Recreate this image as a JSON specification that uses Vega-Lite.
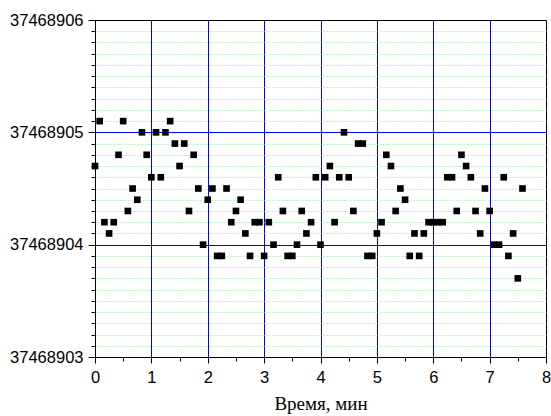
{
  "$schema": "https://vega.github.io/schema/vega-lite/v6.json",
  "width": 451,
  "height": 337,
  "autosize": "none",
  "padding": {"left": 95, "top": 20, "right": 5, "bottom": 59},
  "background": "white",
  "config": {
    "view": {"stroke": "black", "strokeWidth": 1},
    "axis": {"domainColor": "black", "tickColor": "black", "labelColor": "black", "titleColor": "black"}
  },
  "data": {"values": [
    {"t": 0, "f": 37468904.7}, {"t": 0.083, "f": 37468905.1}, {"t": 0.167, "f": 37468904.2}, {"t": 0.25, "f": 37468904.1},
    {"t": 0.333, "f": 37468904.2}, {"t": 0.417, "f": 37468904.8}, {"t": 0.5, "f": 37468905.1}, {"t": 0.583, "f": 37468904.3},
    {"t": 0.667, "f": 37468904.5}, {"t": 0.75, "f": 37468904.4}, {"t": 0.833, "f": 37468905.0}, {"t": 0.917, "f": 37468904.8},
    {"t": 1.0, "f": 37468904.6}, {"t": 1.083, "f": 37468905.0}, {"t": 1.167, "f": 37468904.6}, {"t": 1.25, "f": 37468905.0},
    {"t": 1.333, "f": 37468905.1}, {"t": 1.417, "f": 37468904.9}, {"t": 1.5, "f": 37468904.7}, {"t": 1.583, "f": 37468904.9},
    {"t": 1.667, "f": 37468904.3}, {"t": 1.75, "f": 37468904.8}, {"t": 1.833, "f": 37468904.5}, {"t": 1.917, "f": 37468904.0},
    {"t": 2.0, "f": 37468904.4}, {"t": 2.083, "f": 37468904.5}, {"t": 2.167, "f": 37468903.9}, {"t": 2.25, "f": 37468903.9},
    {"t": 2.333, "f": 37468904.5}, {"t": 2.417, "f": 37468904.2}, {"t": 2.5, "f": 37468904.3}, {"t": 2.583, "f": 37468904.4},
    {"t": 2.667, "f": 37468904.1}, {"t": 2.75, "f": 37468903.9}, {"t": 2.833, "f": 37468904.2}, {"t": 2.917, "f": 37468904.2},
    {"t": 3.0, "f": 37468903.9}, {"t": 3.083, "f": 37468904.2}, {"t": 3.167, "f": 37468904.0}, {"t": 3.25, "f": 37468904.6},
    {"t": 3.333, "f": 37468904.3}, {"t": 3.417, "f": 37468903.9}, {"t": 3.5, "f": 37468903.9}, {"t": 3.583, "f": 37468904.0},
    {"t": 3.667, "f": 37468904.3}, {"t": 3.75, "f": 37468904.1}, {"t": 3.833, "f": 37468904.2}, {"t": 3.917, "f": 37468904.6},
    {"t": 4.0, "f": 37468904.0}, {"t": 4.083, "f": 37468904.6}, {"t": 4.167, "f": 37468904.7}, {"t": 4.25, "f": 37468904.2},
    {"t": 4.333, "f": 37468904.6}, {"t": 4.417, "f": 37468905.0}, {"t": 4.5, "f": 37468904.6}, {"t": 4.583, "f": 37468904.3},
    {"t": 4.667, "f": 37468904.9}, {"t": 4.75, "f": 37468904.9}, {"t": 4.833, "f": 37468903.9}, {"t": 4.917, "f": 37468903.9},
    {"t": 5.0, "f": 37468904.1}, {"t": 5.083, "f": 37468904.2}, {"t": 5.167, "f": 37468904.8}, {"t": 5.25, "f": 37468904.7},
    {"t": 5.333, "f": 37468904.3}, {"t": 5.417, "f": 37468904.5}, {"t": 5.5, "f": 37468904.4}, {"t": 5.583, "f": 37468903.9},
    {"t": 5.667, "f": 37468904.1}, {"t": 5.75, "f": 37468903.9}, {"t": 5.833, "f": 37468904.1}, {"t": 5.917, "f": 37468904.2},
    {"t": 6.0, "f": 37468904.2}, {"t": 6.083, "f": 37468904.2}, {"t": 6.167, "f": 37468904.2}, {"t": 6.25, "f": 37468904.6},
    {"t": 6.333, "f": 37468904.6}, {"t": 6.417, "f": 37468904.3}, {"t": 6.5, "f": 37468904.8}, {"t": 6.583, "f": 37468904.7},
    {"t": 6.667, "f": 37468904.6}, {"t": 6.75, "f": 37468904.3}, {"t": 6.833, "f": 37468904.1}, {"t": 6.917, "f": 37468904.5},
    {"t": 7.0, "f": 37468904.3}, {"t": 7.083, "f": 37468904.0}, {"t": 7.167, "f": 37468904.0}, {"t": 7.25, "f": 37468904.6},
    {"t": 7.333, "f": 37468903.9}, {"t": 7.417, "f": 37468904.1}, {"t": 7.5, "f": 37468903.7}, {"t": 7.583, "f": 37468904.5}
  ]},
  "mark": {"type": "point", "shape": "square", "filled": true, "size": 44, "color": "black", "opacity": 1},
  "encoding": {
    "x": {
      "field": "t", "type": "quantitative",
      "scale": {"domain": [0, 8], "nice": false, "zero": false},
      "axis": {
        "title": "Время, мин", "titleFont": "Liberation Serif", "titleFontSize": 19, "titleFontWeight": "normal", "titlePadding": 9,
        "values": [0, 0.5, 1, 1.5, 2, 2.5, 3, 3.5, 4, 4.5, 5, 5.5, 6, 6.5, 7, 7.5, 8],
        "tickCount": 40,
        "tickMinStep": 0.01,
        "labelExpr": "datum.value % 1 === 0 ? format(datum.value, 'd') : ''",
        "labelFont": "Liberation Sans", "labelFontSize": 16.5, "labelPadding": 6,
        "labelOverlap": false, "labelFlush": false, "labelBound": false,
        "tickSize": {"condition": {"test": "datum.value % 1 === 0", "value": 6}, "value": 4},
        "grid": true, "gridColor": "#0000ff", "gridWidth": 1,
        "gridOpacity": {"condition": {"test": "datum.value % 1 === 0 && datum.value > 0 && datum.value < 8", "value": 1}, "value": 0}
      }
    },
    "y": {
      "field": "f", "type": "quantitative",
      "scale": {"domain": [37468903, 37468906], "nice": false, "zero": false},
      "axis": {
        "title": null,
        "values": [37468903, 37468903.1, 37468903.2, 37468903.3, 37468903.4, 37468903.5, 37468903.6, 37468903.7, 37468903.8, 37468903.9,
                   37468904, 37468904.1, 37468904.2, 37468904.3, 37468904.4, 37468904.5, 37468904.6, 37468904.7, 37468904.8, 37468904.9,
                   37468905, 37468905.1, 37468905.2, 37468905.3, 37468905.4, 37468905.5, 37468905.6, 37468905.7, 37468905.8, 37468905.9, 37468906],
        "tickCount": 100,
        "tickMinStep": 0.01,
        "labelExpr": "datum.value % 1 === 0 ? format(datum.value, 'd') : ''",
        "labelFont": "Liberation Sans", "labelFontSize": 16.5, "labelPadding": 5,
        "labelOverlap": false, "labelFlush": false, "labelBound": false,
        "tickSize": {"condition": {"test": "datum.value % 1 === 0", "value": 7}, "value": 4},
        "grid": true, "gridWidth": 1,
        "gridColor": {"condition": {"test": "datum.value % 1 === 0", "value": "#0000ff"}, "value": "#8ce88c"},
        "gridDash": {"condition": {"test": "datum.value % 1 === 0", "value": []}, "value": [1, 2]},
        "gridOpacity": {"condition": {"test": "datum.value === 37468903 || datum.value === 37468906", "value": 0}, "value": 1}
      }
    }
  }
}
